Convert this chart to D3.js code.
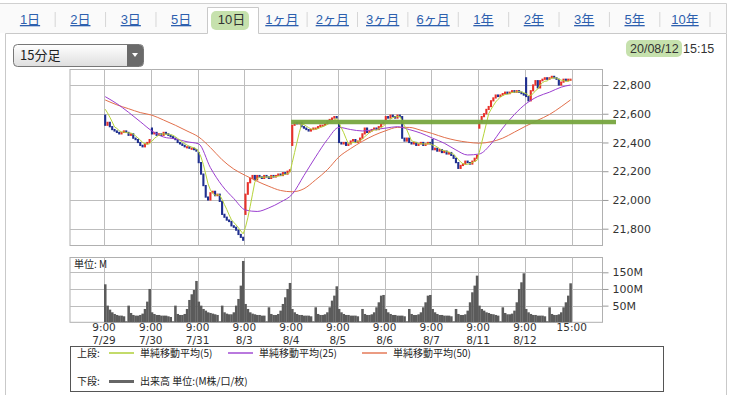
<!DOCTYPE html>
<html>
<head>
<meta charset="utf-8">
<script src="https://d3js.org/d3.v7.min.js"></script>
<style>
  body { margin: 0; background: #fff; }
  svg text { font-family: "DejaVu Sans", "Noto Sans CJK JP", sans-serif; }
  .tab { font-family: "Liberation Sans", "Noto Sans CJK JP", sans-serif; font-size: 13px; }
  .jp { font-family: "Noto Sans CJK JP", sans-serif; }
  .axis text { font-size: 11px; fill: #333; }
  .axis path { display: none; }
  .axis line { stroke: #999; }
</style>
</head>
<body>
<script>
// ---- data ----
var tabLabels = ["1日", "2日", "3日", "5日", "10日", "1ヶ月", "2ヶ月", "3ヶ月", "6ヶ月", "1年", "2年", "3年", "5年", "10年"];
var selectedTab = "10日";
var dayLabels = ["7/29", "7/30", "7/31", "8/3", "8/4", "8/5", "8/6", "8/7", "8/11", "8/12"];
var priceTicks = [21800, 22000, 22200, 22400, 22600, 22800];
var volTicks = [50, 100, 150];

// first open of every day (15 min bars, 20 per day)
var dayOpen = [22590, 22500, 22330, 21900, 22380, 22540, 22560, 22420, 22500, 22850];
// last closes before 7/29 (only used for the 5-bar average)
var prevCloses = [22670, 22660, 22650, 22660];
var closes = [
  22520, 22540, 22510, 22490, 22480, 22470, 22460, 22470, 22480, 22470, 22450, 22460, 22430, 22420, 22400, 22380, 22370, 22390, 22400, 22420,
  22460, 22470, 22450, 22460, 22450, 22470, 22460, 22450, 22440, 22430, 22420, 22400, 22390, 22380, 22370, 22370, 22360, 22360, 22350, 22340,
  22260, 22180, 22100, 22020, 22000, 22050, 22060, 22030, 22040, 21990, 21900, 21880, 21860, 21850, 21820, 21810, 21790, 21760, 21740, 21720,
  22040, 22120, 22150, 22170, 22140, 22170, 22160, 22150, 22170, 22160, 22150, 22170, 22160, 22170, 22180, 22170, 22190, 22180, 22200, 22210,
  22520, 22540, 22530, 22540, 22510, 22500, 22490, 22480, 22490, 22500, 22500, 22510, 22520, 22520, 22530, 22550, 22560, 22570, 22580, 22570,
  22400, 22390, 22400, 22380, 22390, 22410, 22420, 22400, 22410, 22430, 22460, 22500, 22470, 22480, 22490, 22500, 22490, 22510, 22530, 22540,
  22580, 22570, 22590, 22580, 22570, 22590, 22580, 22430, 22410, 22430, 22400, 22390, 22400, 22380, 22390, 22400, 22380, 22390, 22400, 22390,
  22350, 22360, 22340, 22350, 22330, 22340, 22320, 22330, 22310, 22290, 22260, 22220, 22240, 22250, 22270, 22260, 22250, 22270, 22290, 22310,
  22540, 22580, 22600, 22630, 22650, 22690, 22710, 22730, 22720, 22730, 22740, 22750, 22740, 22750, 22760, 22750, 22760, 22750, 22740, 22730,
  22720, 22690, 22760, 22800, 22830, 22780, 22830, 22840, 22850, 22840, 22850, 22860, 22850, 22840, 22800, 22820, 22840, 22830, 22840, 22840
];
// volume, millions
var volumes = [
  114, 50, 38, 30, 25, 22, 20, 20, 18, 3, 50, 28, 22, 20, 20, 22, 26, 40, 62, 100,
  30, 25, 22, 22, 20, 20, 20, 18, 16, 3, 50, 25, 22, 22, 25, 40, 67, 84, 97, 124,
  62, 50, 40, 35, 30, 28, 26, 24, 22, 3, 50, 30, 26, 24, 24, 30, 50, 70, 110, 184,
  55, 40, 30, 26, 24, 22, 22, 20, 20, 3, 45, 25, 22, 22, 25, 35, 55, 75, 100, 118,
  40, 30, 25, 22, 22, 20, 20, 20, 18, 3, 45, 25, 22, 22, 24, 30, 45, 65, 80, 108,
  40, 30, 25, 22, 22, 20, 20, 20, 18, 3, 40, 25, 22, 22, 24, 30, 45, 60, 80, 82,
  40, 30, 25, 22, 22, 20, 20, 20, 18, 3, 40, 25, 22, 22, 24, 30, 45, 60, 80, 82,
  40, 30, 25, 22, 22, 20, 20, 20, 18, 3, 40, 25, 22, 22, 24, 35, 60, 90, 110, 140,
  50, 40, 35, 30, 28, 25, 24, 22, 20, 3, 45, 28, 24, 24, 26, 35, 60, 100, 120, 147,
  40, 30, 25, 22, 22, 20, 20, 20, 18, 3, 45, 25, 22, 22, 24, 30, 45, 60, 80, 117
];
// 25 and 50 bar averages read every 5 bars (last point = bar 199)
var sma25 = [22719, 22670, 22610, 22545, 22480, 22438, 22425, 22405, 22390, 22225, 22100, 22010, 21930, 21920, 21945, 21985,
  22040, 22170, 22300, 22420, 22505, 22490, 22480, 22490, 22500, 22510, 22490, 22465, 22430, 22395, 22348, 22313, 22320, 22390,
  22500, 22595, 22670, 22720, 22750, 22785, 22800];
var sma50 = [22696, 22662, 22635, 22608, 22590, 22556, 22520, 22480, 22438, 22365, 22280, 22215, 22170, 22130, 22095, 22066,
  22057, 22078, 22140, 22210, 22300, 22358, 22408, 22450, 22482, 22505, 22505, 22485, 22462, 22435, 22415, 22402, 22395, 22405,
  22430, 22472, 22515, 22555, 22595, 22649, 22696];
var markLevel = 22543;

// ---- layout ----
var width = 734, height = 395;
var left = 70, right = 602.5;
var barsPerDay = 20, nBars = closes.length;

var svg = d3.select("body").append("svg")
  .attr("width", width).attr("height", height);

// frame + tabs
svg.append("rect").attr("x", -1).attr("y", 3).attr("width", 728).attr("height", 30).attr("fill", "#fafafa");
svg.append("path")
  .attr("d", "M5.5,396 V33.5 H207.5 V7.5 H258.5 V33.5 H726.5 V396")
  .attr("fill", "#fff").attr("stroke", "#c9c9c9");
svg.append("path").attr("d", "M0,3.5 H726.5 V33").attr("fill", "none").attr("stroke", "#d0d0d0");

var tabX = d3.scalePoint().domain(tabLabels).range([30, 685]);
svg.append("rect").attr("x", 211).attr("y", 11).attr("width", 38).attr("height", 19).attr("rx", 5)
  .attr("fill", "#c6e1ad");
tabLabels.forEach(function (t, i) {
  var sel = t === selectedTab;
  svg.append("text").attr("class", "tab")
    .attr("x", tabX(t)).attr("y", 24).attr("text-anchor", "middle")
    .attr("fill", sel ? "#333" : "#2d5fae")
    .attr("text-decoration", sel ? null : "underline")
    .text(t);
  var next = tabLabels[i + 1];
  var mid = next ? (tabX(t) + tabX(next)) / 2 : tabX(t) + 25;
  if (!sel && next !== selectedTab) {
    svg.append("line").attr("x1", mid).attr("x2", mid).attr("y1", 12).attr("y2", 27)
      .attr("stroke", "#d6d6d6");
  }
});

// interval drop-down
var grad = svg.append("defs").append("linearGradient").attr("id", "dd").attr("x1", 0).attr("x2", 0).attr("y1", 0).attr("y2", 1);
grad.append("stop").attr("offset", 0).attr("stop-color", "#ffffff");
grad.append("stop").attr("offset", 1).attr("stop-color", "#dedede");
svg.append("rect").attr("x", 13.5).attr("y", 44.5).attr("width", 130).attr("height", 22).attr("rx", 4)
  .attr("fill", "url(#dd)").attr("stroke", "#777");
svg.append("path").attr("d", "M127,45 H139.5 A3.5,3.5 0 0 1 143,48.5 V62.5 A3.5,3.5 0 0 1 139.5,66 H127 Z")
  .attr("fill", "#6a6a6a");
svg.append("path").attr("d", "M132,53 L138,53 L135,57 Z").attr("fill", "#fff");
svg.append("text").attr("class", "jp").attr("x", 20).attr("y", 60).attr("font-size", 13).attr("fill", "#222").text("15分足");

// date stamp
svg.append("rect").attr("x", 626).attr("y", 40).attr("width", 56).attr("height", 17).attr("rx", 5).attr("fill", "#c6e1ad");
svg.append("text").attr("x", 630).attr("y", 53).attr("font-size", 12.5).attr("fill", "#333")
  .style("font-family", "Liberation Sans, sans-serif").text("20/08/12");
svg.append("text").attr("x", 683).attr("y", 53).attr("font-size", 12.5).attr("fill", "#333")
  .style("font-family", "Liberation Sans, sans-serif").text("15:15");

// ---- scales ----
var x = d3.scaleLinear().domain([0, nBars]).range([104, 571.7]);
var yP = d3.scaleLinear().domain([21800, 22800]).range([228.7, 85]);
var yV = d3.scaleLinear().domain([0, 150]).range([322.3, 272.3]);
var mainTop = 69.5, mainBot = 245.5, volTop = 257.5, volBot = 322.3;

var dayStarts = d3.range(dayLabels.length).map(function (d) { return d * barsPerDay; });
var gridX = dayStarts.concat([nBars]);

function panel(top, bot, yScale, ticks, fmt) {
  var g = svg.append("g");
  g.append("rect").attr("x", left).attr("y", top).attr("width", right - left).attr("height", bot - top)
    .attr("fill", "#fff").attr("stroke", "#b0b0b0");
  g.selectAll(".h").data(ticks).enter().append("line")
    .attr("x1", left).attr("x2", right)
    .attr("y1", function (d) { return Math.round(yScale(d)) + 0.5; })
    .attr("y2", function (d) { return Math.round(yScale(d)) + 0.5; })
    .attr("stroke", "#bdbdbd");
  g.selectAll(".v").data(gridX).enter().append("line")
    .attr("x1", function (d) { return Math.round(x(d)) + 0.5; })
    .attr("x2", function (d) { return Math.round(x(d)) + 0.5; })
    .attr("y1", top).attr("y2", bot)
    .attr("stroke", "#bdbdbd");
  svg.append("g").attr("class", "axis")
    .attr("transform", "translate(" + right + ",0)")
    .call(d3.axisRight(yScale).tickValues(ticks).tickSize(6).tickPadding(4).tickFormat(fmt));
}
panel(mainTop, mainBot, yP, priceTicks, d3.format(","));
panel(volTop, volBot, yV, volTicks, function (d) { return d + "M"; });

// ---- candles ----
var bars = closes.map(function (c, i) {
  var o = (i % barsPerDay === 0) ? dayOpen[i / barsPerDay] : closes[i - 1];
  return { i: i, o: o, c: c };
});
var bw = (x(1) - x(0)) * 0.9;
svg.append("g").selectAll("rect").data(bars).enter().append("rect")
  .attr("x", function (d) { return x(d.i + 0.5) - bw / 2; })
  .attr("width", bw)
  .attr("y", function (d) { return yP(Math.max(d.o, d.c)) - 0.6; })
  .attr("height", function (d) { return Math.max(2.2, Math.abs(yP(d.o) - yP(d.c)) + 1.2); })
  .attr("fill", function (d) { return d.c >= d.o ? "#e8312a" : "#1f2f8f"; });

// ---- moving averages ----
var all = prevCloses.concat(closes);
var sma5 = closes.map(function (c, i) {
  return d3.mean(all.slice(i, i + 5));
});
var line = d3.line()
  .x(function (d) { return x(d[0] + 0.5); })
  .y(function (d) { return yP(d[1]); });
var smooth = d3.line()
  .x(function (d) { return x(d[0] + 0.5); })
  .y(function (d) { return yP(d[1]); })
  .curve(d3.curveMonotoneX);
function sampled(arr) {
  return arr.map(function (v, k) { return [Math.min(k * 5, nBars - 1), v]; });
}
svg.append("path").attr("d", smooth(sampled(sma50))).attr("fill", "none").attr("stroke", "#e2704c").attr("stroke-width", 1);
svg.append("path").attr("d", smooth(sampled(sma25))).attr("fill", "none").attr("stroke", "#9b3fd0").attr("stroke-width", 1);
svg.append("path").attr("d", line(sma5.map(function (v, i) { return [i, v]; })))
  .attr("fill", "none").attr("stroke", "#b6d43a").attr("stroke-width", 1);

// hand-drawn level mark
svg.append("line")
  .attr("x1", x(4 * barsPerDay)).attr("x2", 616)
  .attr("y1", yP(markLevel)).attr("y2", yP(markLevel))
  .attr("stroke", "#78a640").attr("stroke-width", 4.5).attr("opacity", 0.95);

// ---- volume ----
svg.append("g").selectAll("rect").data(volumes).enter().append("rect")
  .attr("x", function (d, i) { return x(i); })
  .attr("width", x(1) - x(0) + 0.2)
  .attr("y", function (d) { return yV(d); })
  .attr("height", function (d) { return yV(0) - yV(d); })
  .attr("fill", "#5b5b5b");
svg.append("text").attr("class", "jp").attr("x", 74).attr("y", 268).attr("font-size", 10).attr("fill", "#222").text("単位: M");

// ---- x labels ----
var xl = svg.append("g").attr("font-size", 10.5).attr("fill", "#333").attr("text-anchor", "middle");
dayStarts.forEach(function (b, d) {
  xl.append("text").attr("x", x(b)).attr("y", 331).text("9:00");
  xl.append("text").attr("x", x(b)).attr("y", 343.5).text(dayLabels[d]);
});
xl.append("text").attr("x", x(nBars)).attr("y", 331).text("15:00");

// ---- legend ----
var lg = svg.append("g");
lg.append("rect").attr("x", 70.5).attr("y", 346.5).attr("width", 593).attr("height", 45)
  .attr("fill", "#fff").attr("stroke", "#555");
var legendItems = [
  { label: "単純移動平均(5)", color: "#a9cc2a", x0: 109 },
  { label: "単純移動平均(25)", color: "#9b3fd0", x0: 228 },
  { label: "単純移動平均(50)", color: "#e2704c", x0: 362 }
];
lg.append("text").attr("class", "jp").attr("x", 77).attr("y", 357).attr("font-size", 10).attr("fill", "#222").text("上段:");
legendItems.forEach(function (it) {
  lg.append("line").attr("x1", it.x0).attr("x2", it.x0 + 25).attr("y1", 353).attr("y2", 353)
    .attr("stroke", it.color).attr("stroke-width", 1.4);
  lg.append("text").attr("class", "jp").attr("x", it.x0 + 31).attr("y", 357).attr("font-size", 10).attr("fill", "#222").text(it.label);
});
lg.append("text").attr("class", "jp").attr("x", 77).attr("y", 385).attr("font-size", 10).attr("fill", "#222").text("下段:");
lg.append("line").attr("x1", 109).attr("x2", 134).attr("y1", 381.5).attr("y2", 381.5).attr("stroke", "#666").attr("stroke-width", 3);
lg.append("text").attr("class", "jp").attr("x", 140).attr("y", 385).attr("font-size", 10).attr("fill", "#222").text("出来高 単位:(M株/口/枚)");
</script>
</body>
</html>
